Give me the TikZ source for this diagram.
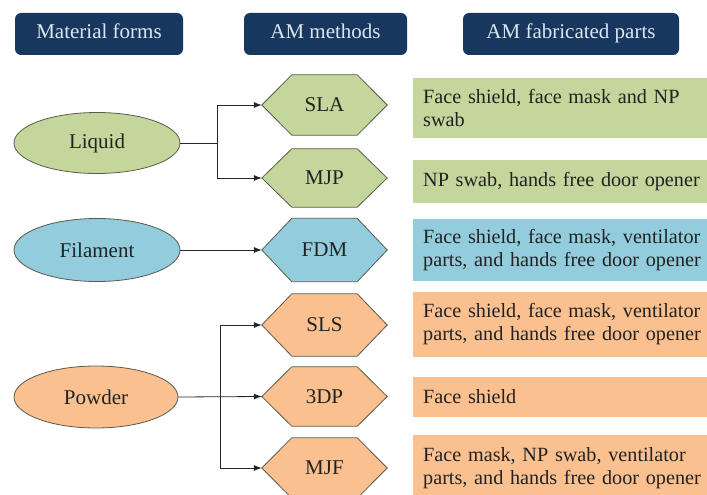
\documentclass[tikz,border=0pt]{standalone}
\usepackage{fontspec}
\setmainfont{Liberation Serif}
\usetikzlibrary{arrows.meta,backgrounds,shapes.geometric}
\definecolor{navy}{HTML}{17375E}
\definecolor{hdtext}{HTML}{DCE6F2}
\definecolor{gfill}{HTML}{C3D69B}
\definecolor{bfill}{HTML}{93CDDD}
\definecolor{ofill}{HTML}{FAC090}
\definecolor{edge}{HTML}{5A5A4A}
\definecolor{ink}{HTML}{222222}
\begin{document}
\begin{tikzpicture}[x=1pt,y=-1pt,
  font=\fontsize{21}{23}\selectfont,
  header/.style={fill=navy, rounded corners=6pt, text=hdtext, minimum height=42pt, inner sep=0pt,
    text height=14pt, text depth=4.5pt},
  oval/.style={ellipse, draw=edge, line width=0.8pt, minimum width=166pt, minimum height=61pt, inner sep=0pt, text=ink},
  hexa/.style={minimum width=125pt, minimum height=60pt, inner sep=0pt, text=ink},
  part/.style={anchor=west, text width=290pt, align=left, inner xsep=10pt, inner ysep=0pt, text=ink,
    font=\fontsize{20.2}{23}\selectfont},
  conn/.style={draw=black!85, line width=0.8pt},
  arr/.style={conn, -{Latex[length=8pt,width=6pt]}}]
\useasboundingbox (0,0) rectangle (707,495);

% headers
\node[header, minimum width=168pt] (h1) at (99,34) {Material forms};
\node[header, minimum width=163pt] (h2) at (325.5,34) {AM methods};
\node[header, minimum width=216pt] (h3) at (571,34) {AM fabricated parts};

% material forms
\node[oval, fill=gfill] (liquid) at (97,143) {Liquid};
\node[oval, fill=bfill, minimum height=63pt] (filament) at (97,250) {Filament};
\node[oval, fill=ofill, minimum width=164pt, minimum height=62pt] (powder) at (96,397) {Powder};

% AM methods
\node[hexa] (sla) at (324.5,105) {SLA};
\node[hexa, minimum height=58pt] (mjp) at (324.5,178) {MJP};
\node[hexa, minimum height=63pt] (fdm) at (324.5,250) {FDM};
\node[hexa, minimum height=62pt] (sls) at (324.5,325) {SLS};
\node[hexa, minimum height=59pt] (tdp) at (324.5,396.5) {3DP};
\node[hexa] (mjf) at (324.5,468) {MJF};

% parts
\node[part, fill=gfill, minimum height=60pt] (p1) at (413,108) {Face shield, face mask and NP\\swab};
\node[part, fill=gfill, minimum height=43pt] (p2) at (413,181.5) {NP swab, hands free door opener};
\node[part, fill=bfill, minimum height=62pt] (p3) at (413,250) {Face shield, face mask, ventilator\\parts, and hands free door opener};
\node[part, fill=ofill, minimum height=65pt] (p4) at (413,324.5) {Face shield, face mask, ventilator\\parts, and hands free door opener};
\node[part, fill=ofill, minimum height=40pt] (p5) at (413,397) {Face shield};
\node[part, fill=ofill, minimum height=66pt] (p6) at (413,468) {Face mask, NP swab, ventilator\\parts, and hands free door opener};

\begin{scope}[on background layer]
\foreach \n/\c in {sla/gfill,mjp/gfill,fdm/bfill,sls/ofill,tdp/ofill,mjf/ofill}
  \draw[fill=\c, draw=edge, line width=0.8pt]
    ([xshift=30pt]\n.north west) -- ([xshift=-30pt]\n.north east) -- (\n.east)
    -- ([xshift=-30pt]\n.south east) -- ([xshift=30pt]\n.south west) -- (\n.west) -- cycle;
\end{scope}

% connectors
\draw[conn] (liquid.east) -- ++(37,0) coordinate (lj);
\draw[arr] (lj) |- (sla.west);
\draw[arr] (lj) |- (mjp.west);
\draw[arr] (filament.east) -- (fdm.west);
\draw[arr] (powder.east) -- (tdp.west);
\coordinate (pj) at (220,397);
\draw[arr] (pj) |- (sls.west);
\draw[arr] (pj) |- (mjf.west);
\end{tikzpicture}
\end{document}
